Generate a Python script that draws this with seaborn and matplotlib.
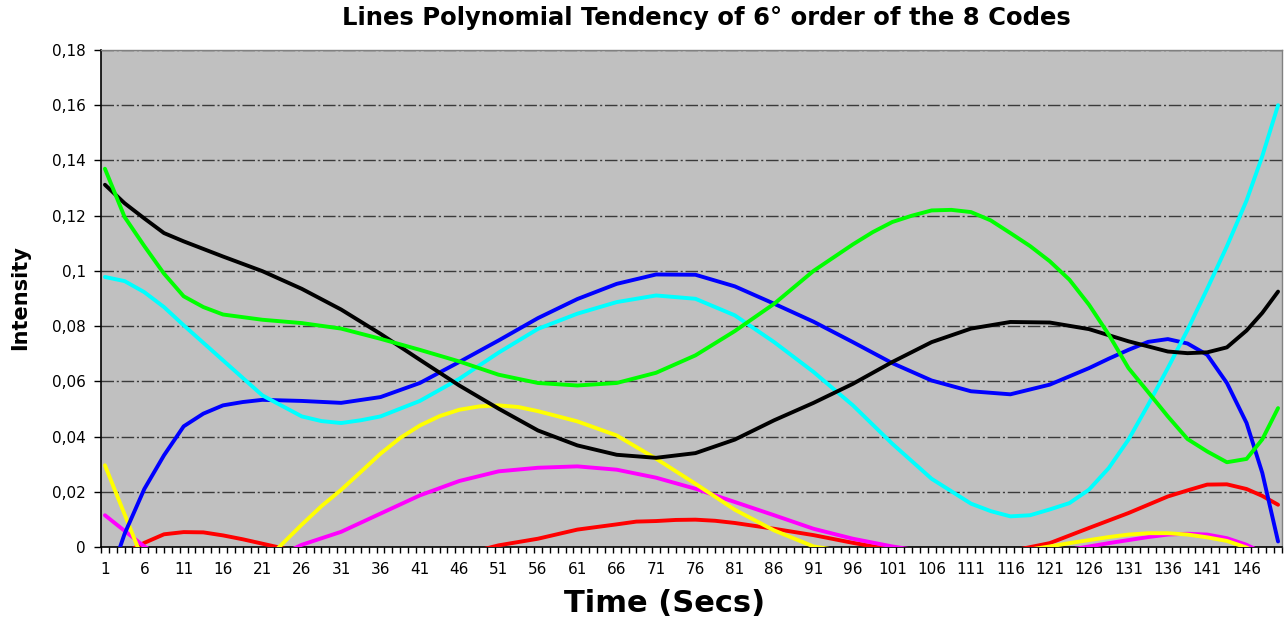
import numpy as np
import pandas as pd
import seaborn as sns
import matplotlib
matplotlib.use("Agg")
import matplotlib.pyplot as plt

# ---------------- data ----------------
green_time = [1, 3.5, 6, 8.5, 11, 13.5, 16, 21, 26, 31, 36, 41, 46, 51, 56, 61, 66,
              71, 76, 81, 86, 91, 96, 98.5, 101, 103.5, 106, 108.5, 111, 113.5,
              116, 118.5, 121, 123.5, 126, 128.5, 131, 133.5, 136, 138.5, 141,
              143.5, 146, 148, 150]
green = [0.137, 0.1195, 0.109, 0.099, 0.0908, 0.0869, 0.0842, 0.0823, 0.0811,
         0.0791, 0.0754, 0.0714, 0.0672, 0.0624, 0.0594, 0.0585, 0.0594, 0.0631,
         0.0694, 0.0782, 0.0881, 0.1000, 0.1096, 0.114, 0.1177, 0.12, 0.1219,
         0.1221, 0.1213, 0.1183, 0.1137, 0.109, 0.1035, 0.0968, 0.0877, 0.0769,
         0.0648, 0.0561, 0.0473, 0.0391, 0.0346, 0.0307, 0.0319, 0.039, 0.0503]

black_time = [1, 3.5, 6, 8.5, 11, 16, 21, 26, 31, 36, 41, 46, 51, 56, 61, 66, 71,
              76, 81, 86, 91, 96, 101, 106, 111, 116, 121, 126, 131, 136, 138.5,
              141, 143.5, 146, 148, 150]
black = [0.1312, 0.1245, 0.119, 0.1137, 0.1107, 0.1052, 0.0999, 0.0935, 0.086,
         0.0772, 0.0678, 0.0585, 0.0501, 0.0422, 0.0368, 0.0334, 0.0323, 0.034,
         0.0389, 0.0459, 0.0522, 0.0591, 0.067, 0.0742, 0.0791, 0.0815, 0.0813,
         0.0789, 0.0745, 0.0708, 0.0702, 0.0705, 0.0723, 0.0784, 0.0848, 0.0925]

cyan_time = [1, 3.5, 6, 8.5, 11, 16, 21, 26, 28.5, 31, 33.5, 36, 41, 46, 51, 56,
             61, 66, 71, 76, 81, 86, 91, 96, 101, 106, 111, 113.5, 116, 118.5,
             121, 123.5, 126, 128.5, 131, 133.5, 136, 138.5, 141, 143.5, 146, 148,
             150]
cyan = [0.0978, 0.0963, 0.0923, 0.0869, 0.0803, 0.0676, 0.0549, 0.0473, 0.0456,
        0.0449, 0.0459, 0.0473, 0.0529, 0.0609, 0.0704, 0.079, 0.0845, 0.0887,
        0.0911, 0.0899, 0.0839, 0.0742, 0.0634, 0.0513, 0.0374, 0.0247, 0.0157,
        0.013, 0.0111, 0.0115, 0.0136, 0.0159, 0.0208, 0.0286, 0.0389, 0.0515,
        0.0648, 0.0786, 0.0935, 0.1089, 0.1255, 0.1416, 0.160]

blue_time = [1, 3.5, 6, 8.5, 11, 13.5, 16, 18.5, 21, 26, 31, 36, 41, 46, 51, 56,
             61, 66, 71, 76, 81, 86, 91, 96, 101, 106, 111, 116, 121, 126, 128.5,
             131, 133.5, 136, 138.5, 141, 143.5, 146, 148, 150]
blue = [-0.016, 0.0048, 0.021, 0.0332, 0.0437, 0.0483, 0.0513, 0.0525, 0.0533,
        0.0529, 0.0522, 0.0543, 0.0594, 0.067, 0.0748, 0.0829, 0.0898, 0.0953,
        0.0987, 0.0986, 0.0944, 0.0881, 0.0816, 0.0742, 0.0666, 0.0603, 0.0564,
        0.0553, 0.0588, 0.0648, 0.0682, 0.0714, 0.0743, 0.0753, 0.0737, 0.0696,
        0.0594, 0.0449, 0.0268, 0.002]

yellow_time = [1, 6, 11, 16, 21, 26, 28.5, 31, 33.5, 36, 38.5, 41, 43.5, 46, 48.5,
               51, 53.5, 56, 61, 66, 71, 76, 81, 86, 91, 96, 101, 106, 111, 116,
               121, 123.5, 126, 128.5, 131, 133.5, 136, 138.5, 141, 143.5, 146, 150]
yellow = [0.0296, -0.006, -0.015, -0.014, -0.006, 0.0081, 0.0148, 0.0207, 0.0272,
          0.0338, 0.0395, 0.044, 0.0474, 0.0497, 0.0509, 0.0513, 0.0507, 0.0492,
          0.0455, 0.0404, 0.032, 0.0229, 0.0135, 0.006, 0.0002, -0.002, -0.004,
          -0.005, -0.004, -0.002, 0.0002, 0.0014, 0.0025, 0.0036, 0.0045, 0.005,
          0.005, 0.0045, 0.0035, 0.0022, -0.0002, -0.006]

magenta_time = [1, 6, 11, 16, 21, 26, 31, 36, 41, 46, 51, 56, 61, 66, 71, 76, 81,
                86, 91, 96, 101, 106, 111, 116, 121, 123.5, 126, 128.5, 131, 133.5,
                136, 138.5, 141, 143.5, 146, 148, 150]
magenta = [0.0115, 0.0002, -0.008, -0.01, -0.006, 0.0008, 0.0055, 0.0121, 0.0187,
           0.0239, 0.0274, 0.0287, 0.0292, 0.028, 0.0251, 0.0211, 0.0163, 0.0115,
           0.0066, 0.003, 0.0002, -0.002, -0.003, -0.003, -0.002, -0.001, 0.0002,
           0.0014, 0.0025, 0.0036, 0.0045, 0.0048, 0.0045, 0.0032, 0.0008, -0.002,
           -0.005]

red_time = [1, 6, 8.5, 11, 13.5, 16, 18.5, 21, 26, 31, 36, 41, 46, 51, 56, 61, 66,
            68.5, 71, 73.5, 76, 78.5, 81, 86, 91, 96, 101, 106, 111, 116, 121, 126,
            131, 136, 138.5, 141, 143.5, 146, 148, 150]
red = [-0.006, 0.0015, 0.0046, 0.0054, 0.0053, 0.0042, 0.0028, 0.0012, -0.002,
       -0.005, -0.007, -0.006, -0.003, 0.0006, 0.003, 0.0063, 0.0082, 0.0092,
       0.0094, 0.0098, 0.0099, 0.0095, 0.0087, 0.0066, 0.0043, 0.0015, -0.001,
       -0.003, -0.003, -0.0015, 0.0014, 0.0069, 0.0123, 0.0183, 0.0205, 0.0226,
       0.0227, 0.021, 0.0185, 0.0153]

codes = ["Red", "Magenta", "Yellow", "Blue", "Cyan", "Black", "Green"]
colors = {"Red": "#FF0000", "Magenta": "#FF00FF", "Yellow": "#FFFF00",
          "Blue": "#0000FF", "Cyan": "#00FFFF", "Black": "#000000",
          "Green": "#00FF00"}
series = {"Red": (red_time, red), "Magenta": (magenta_time, magenta),
          "Yellow": (yellow_time, yellow), "Blue": (blue_time, blue),
          "Cyan": (cyan_time, cyan), "Black": (black_time, black),
          "Green": (green_time, green)}

xtick_values = list(range(1, 150, 5))
xtick_labels = [str(v) for v in xtick_values]
ytick_values = [0, 0.02, 0.04, 0.06, 0.08, 0.1, 0.12, 0.14, 0.16, 0.18]
ytick_labels = ["0", "0,02", "0,04", "0,06", "0,08", "0,1", "0,12", "0,14",
                "0,16", "0,18"]

# ---------------- figure ----------------
sns.set_theme(style="white")
plt.rcParams["font.family"] = ["DejaVu Sans"]
plt.rcParams["text.color"] = "black"
plt.rcParams["xtick.color"] = "black"
plt.rcParams["ytick.color"] = "black"

df = pd.concat([pd.DataFrame({"Time": series[c][0], "Intensity": series[c][1],
                              "Code": c}) for c in codes], ignore_index=True)

fig = plt.figure(figsize=(12.86, 6.23), dpi=100)
ax = fig.add_axes([101 / 1286, 1 - 547 / 623, (1282 - 101) / 1286, (547 - 50) / 623])
ax.set_facecolor("#C0C0C0")

for yv in ytick_values[1:]:
    ax.axhline(yv, color="#3a3a3a", lw=1.0, linestyle=(0, (9, 2, 1.5, 2)), zorder=1)

sns.lineplot(data=df, x="Time", y="Intensity", hue="Code", hue_order=codes,
             palette=colors, linewidth=2.8, legend=False, ax=ax, zorder=3,
             solid_capstyle="round", solid_joinstyle="round")

ax.set_xlim(0.5, 150.5)
ax.set_ylim(0, 0.18)

ax.set_xticks(xtick_values)
ax.set_xticklabels(xtick_labels, fontsize=11, color="black")
ax.set_xticks(np.arange(0.5, 151, 1), minor=True)
ax.tick_params(axis="x", which="major", length=0, pad=11, labelcolor="black")
ax.tick_params(axis="x", which="minor", length=4, width=1, direction="out",
               color="black", bottom=True)
ax.set_yticks(ytick_values)
ax.set_yticklabels(ytick_labels, fontsize=11, color="black")
ax.tick_params(axis="y", which="major", length=5, width=1, direction="out",
               pad=6, left=True, color="black", labelcolor="black")

for side in ["left", "bottom"]:
    ax.spines[side].set_color("black")
    ax.spines[side].set_linewidth(1.2)
for side in ["top", "right"]:
    ax.spines[side].set_color("#808080")
    ax.spines[side].set_linewidth(1.0)

ax.set_xlabel("")
ax.set_ylabel("")

fig.text(706 / 1286, 1 - 18 / 623,
         "Lines Polynomial Tendency of 6° order of the 8 Codes",
         ha="center", va="center", fontsize=17.5, fontweight="bold", color="black")
fig.text(20 / 1286, 1 - 298 / 623, "Intensity", rotation=90,
         ha="center", va="center", fontsize=15, fontweight="bold", color="black")
fig.text(665 / 1286, 1 - 604 / 623, "Time (Secs)",
         ha="center", va="center", fontsize=22, fontweight="bold", color="black")

fig.savefig("out.png", dpi=100, facecolor="white")
